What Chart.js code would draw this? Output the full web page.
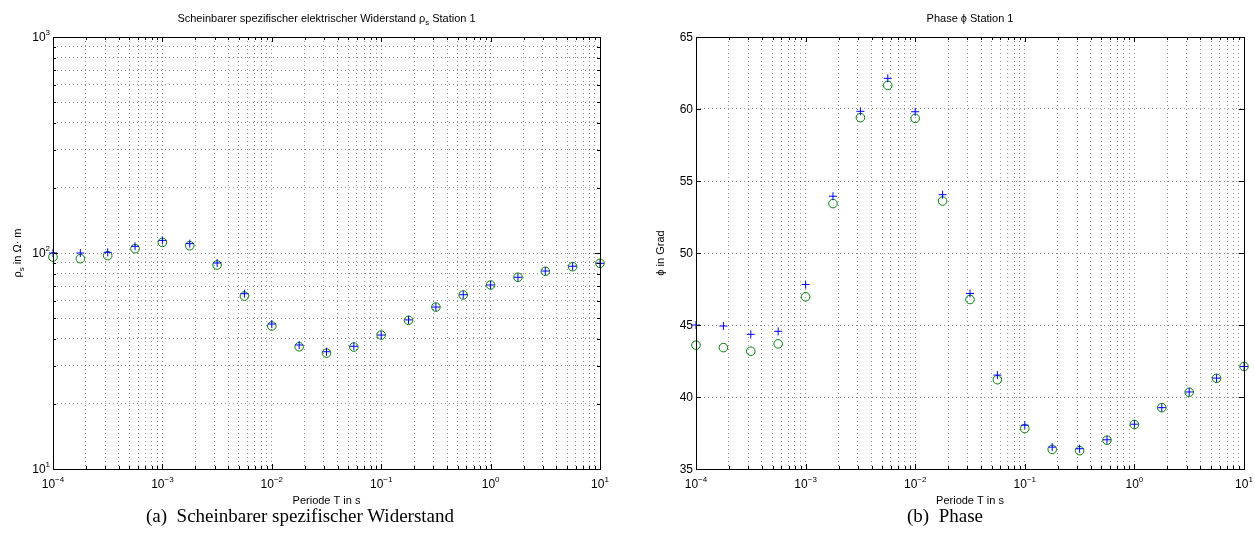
<!DOCTYPE html>
<html>
<head>
<meta charset="utf-8">
<script src="https://cdn.jsdelivr.net/npm/chart.js@4.4.0/dist/chart.umd.min.js"></script>
<style>
  body { margin: 0; background: #fff; width: 1255px; height: 550px; overflow: hidden; position: relative; }
  .wrap { position: absolute; top: 0; height: 550px; }
  #wrapA { left: 0; width: 627px; }
  #wrapB { left: 627px; width: 628px; }
  .cap { position: absolute; top: 505px; font-family: "Liberation Serif", "Times New Roman", serif; font-size: 19px; white-space: pre; transform: translateX(-50%); }
</style>
</head>
<body>
<div class="wrap" id="wrapA"><canvas id="rhoChart" width="627" height="550"></canvas></div>
<div class="wrap" id="wrapB"><canvas id="phiChart" width="628" height="550"></canvas></div>
<div class="cap" style="left:300px">(a)  Scheinbarer spezifischer Widerstand</div>
<div class="cap" style="left:945px">(b)  Phase</div>

<script>
// Periode T in s (quarter decades, 1e-4 ... 10)
const periods = [1e-4, 1.778e-4, 3.162e-4, 5.623e-4, 1e-3, 1.778e-3, 3.162e-3, 5.623e-3,
  1e-2, 1.778e-2, 3.162e-2, 5.623e-2, 0.1, 0.1778, 0.3162, 0.5623, 1, 1.778, 3.162, 5.623, 10];

// rho_s in Ohm m
const rhoPlus   = [100, 100, 100.7, 107.4, 114.4, 110.5, 89.9, 64.8, 46.9, 37.5, 34.9,
  37.0, 41.7, 49.0, 56.2, 64.1, 71.1, 77.2, 82.5, 86.8, 89.6];
const rhoCircle = [95.8, 94.1, 97.2, 104.7, 112.0, 108.1, 88.0, 63.2, 45.9, 36.8, 34.4,
  36.7, 41.7, 48.8, 56.2, 63.9, 71.1, 77.2, 82.3, 86.4, 89.6];

// phase in Grad
const phiPlus   = [45.0, 44.93, 44.35, 44.56, 47.81, 53.94, 59.84, 62.13, 59.81, 54.05, 47.19,
  41.52, 38.04, 36.52, 36.41, 37.03, 38.11, 39.26, 40.35, 41.31, 42.12];
const phiCircle = [43.6, 43.43, 43.18, 43.69, 46.96, 53.43, 59.4, 61.64, 59.35, 53.61, 46.77,
  41.2, 37.81, 36.36, 36.27, 37.0, 38.09, 39.26, 40.33, 41.3, 42.12];

// axis ticks
const xDecades = [-4, -3, -2, -1, 0, 1];
const xTickExp = ['\u22124', '\u22123', '\u22122', '\u22121', '0', '1'];
const rhoDecades = [1, 2, 3];
const rhoTickExp = ['1', '2', '3'];
const phiTicks = [35, 40, 45, 50, 55, 60, 65];

const SANS = '"Liberation Sans", Arial, Helvetica, sans-serif';
const GRID = 'rgba(0,0,0,0.42)';

// tick values of a log axis: 1..9 x 10^e in each decade
function logGrid(decades) {
  const out = [];
  for (let i = 0; i < decades.length - 1; i++) {
    for (let m = 1; m < 10; m++) out.push(m * Math.pow(10, decades[i]));
  }
  out.push(Math.pow(10, decades[decades.length - 1]));
  return out;
}
const isDecade = v => Math.abs(Math.log10(v) - Math.round(Math.log10(v))) < 1e-6;

function decadeLabel(decades, exps) {
  return v => {
    if (!isDecade(v)) return null;
    const i = decades.indexOf(Math.round(Math.log10(v)));
    return i < 0 ? null : [{ t: '10', s: 12 }, { t: exps[i], s: 8, dy: -6 }];
  };
}

// text made of runs (for super/subscripts)
function drawRuns(ctx, runs, x, y, align) {
  let w = 0;
  runs.forEach(r => { ctx.font = r.s + 'px ' + SANS; r.w = ctx.measureText(r.t).width; w += r.w; });
  let cx = align === 'right' ? x - w : align === 'center' ? x - w / 2 : x;
  ctx.textAlign = 'left';
  ctx.textBaseline = 'alphabetic';
  runs.forEach(r => {
    ctx.font = r.s + 'px ' + SANS;
    ctx.fillText(r.t, cx, y + (r.dy || 0));
    cx += r.w;
  });
}

// MATLAB-like frame: box, inner ticks, labels, titles
const matlabFrame = {
  id: 'matlabFrame',
  afterDraw(chart, args, o) {
    const ctx = chart.ctx;
    const a = chart.chartArea;
    const xs = chart.scales.x, ys = chart.scales.y;
    ctx.save();
    ctx.strokeStyle = '#000';
    ctx.lineWidth = 1;
    ctx.beginPath();
    xs.ticks.forEach(t => {
      const px = Math.round(xs.getPixelForValue(t.value)) + 0.5;
      const len = o.xMajor(t.value) ? 5 : 3;
      ctx.moveTo(px, a.bottom); ctx.lineTo(px, a.bottom - len);
      ctx.moveTo(px, a.top); ctx.lineTo(px, a.top + len);
    });
    ys.ticks.forEach(t => {
      const py = Math.round(ys.getPixelForValue(t.value)) + 0.5;
      const len = o.yMajor(t.value) ? 5 : 3;
      ctx.moveTo(a.left, py); ctx.lineTo(a.left + len, py);
      ctx.moveTo(a.right, py); ctx.lineTo(a.right - len, py);
    });
    ctx.stroke();
    ctx.strokeRect(a.left + 0.5, a.top + 0.5, a.right - a.left, a.bottom - a.top);

    ctx.fillStyle = '#000';
    xs.ticks.forEach(t => {
      const runs = o.xLabel(t.value);
      if (runs) drawRuns(ctx, runs, xs.getPixelForValue(t.value), a.bottom + 19, 'center');
    });
    ys.ticks.forEach(t => {
      const runs = o.yLabel(t.value);
      if (runs) drawRuns(ctx, runs, a.left - 3, ys.getPixelForValue(t.value) + 4, 'right');
    });

    const midX = (a.left + a.right) / 2;
    drawRuns(ctx, o.title, midX, o.titleY, 'center');
    drawRuns(ctx, o.xTitle, midX, a.bottom + 35, 'center');

    ctx.translate(o.yTitleX, (a.top + a.bottom) / 2);
    ctx.rotate(-Math.PI / 2);
    drawRuns(ctx, o.yTitle, 0, 0, 'center');
    ctx.restore();
  }
};

function axis(type, min, max, ticks, sizeProp) {
  return {
    type, min, max,
    afterBuildTicks: s => { s.ticks = ticks.map(v => ({ value: v })); },
    afterFit: s => { s[sizeProp] = 0; },
    ticks: { display: false },
    grid: { color: GRID, lineWidth: 1, drawTicks: false },
    border: { display: false, dash: [1, 3] }
  };
}

function scatterSets(plus, circle) {
  return [
    {
      data: periods.map((x, i) => ({ x, y: plus[i] })),
      pointStyle: 'cross', pointRadius: 4, borderColor: '#0000ff', borderWidth: 1,
      backgroundColor: 'rgba(0,0,0,0)', showLine: false, clip: false
    },
    {
      data: periods.map((x, i) => ({ x, y: circle[i] })),
      pointStyle: 'circle', pointRadius: 4.3, borderColor: '#008000', borderWidth: 1,
      backgroundColor: 'rgba(0,0,0,0)', showLine: false, clip: false
    }
  ];
}

const xGrid = logGrid(xDecades);
const xLabel = decadeLabel(xDecades, xTickExp);

new Chart(document.getElementById('rhoChart'), {
  type: 'scatter',
  data: { datasets: scatterSets(rhoPlus, rhoCircle) },
  options: {
    responsive: false, animation: false, events: [],
    layout: { padding: { left: 53, top: 37, right: 27, bottom: 81 } },
    scales: {
      x: axis('logarithmic', 1e-4, 10, xGrid, 'height'),
      y: axis('logarithmic', 10, 1000, logGrid(rhoDecades), 'width')
    },
    plugins: {
      legend: { display: false }, tooltip: { enabled: false },
      matlabFrame: {
        xMajor: isDecade, yMajor: isDecade,
        xLabel, yLabel: decadeLabel(rhoDecades, rhoTickExp),
        title: [{ t: 'Scheinbarer spezifischer elektrischer Widerstand \u03c1', s: 11 },
                { t: 's', s: 8, dy: 3 }, { t: ' Station 1', s: 11 }],
        titleY: 22,
        xTitle: [{ t: 'Periode T in s', s: 11 }],
        yTitle: [{ t: '\u03c1', s: 11 }, { t: 's', s: 8, dy: 3 }, { t: ' in \u03a9\u00b7 m', s: 11 }],
        yTitleX: 21
      }
    }
  },
  plugins: [matlabFrame]
});

new Chart(document.getElementById('phiChart'), {
  type: 'scatter',
  data: { datasets: scatterSets(phiPlus, phiCircle) },
  options: {
    responsive: false, animation: false, events: [],
    layout: { padding: { left: 69, top: 37, right: 11, bottom: 81 } },
    scales: {
      x: axis('logarithmic', 1e-4, 10, xGrid, 'height'),
      y: axis('linear', 35, 65, phiTicks, 'width')
    },
    plugins: {
      legend: { display: false }, tooltip: { enabled: false },
      matlabFrame: {
        xMajor: isDecade, yMajor: () => true,
        xLabel, yLabel: v => [{ t: String(v), s: 12 }],
        title: [{ t: 'Phase \u03d5 Station 1', s: 11 }],
        titleY: 22,
        xTitle: [{ t: 'Periode T in s', s: 11 }],
        yTitle: [{ t: '\u03d5 in Grad', s: 11 }],
        yTitleX: 37
      }
    }
  },
  plugins: [matlabFrame]
});
</script>
</body>
</html>
